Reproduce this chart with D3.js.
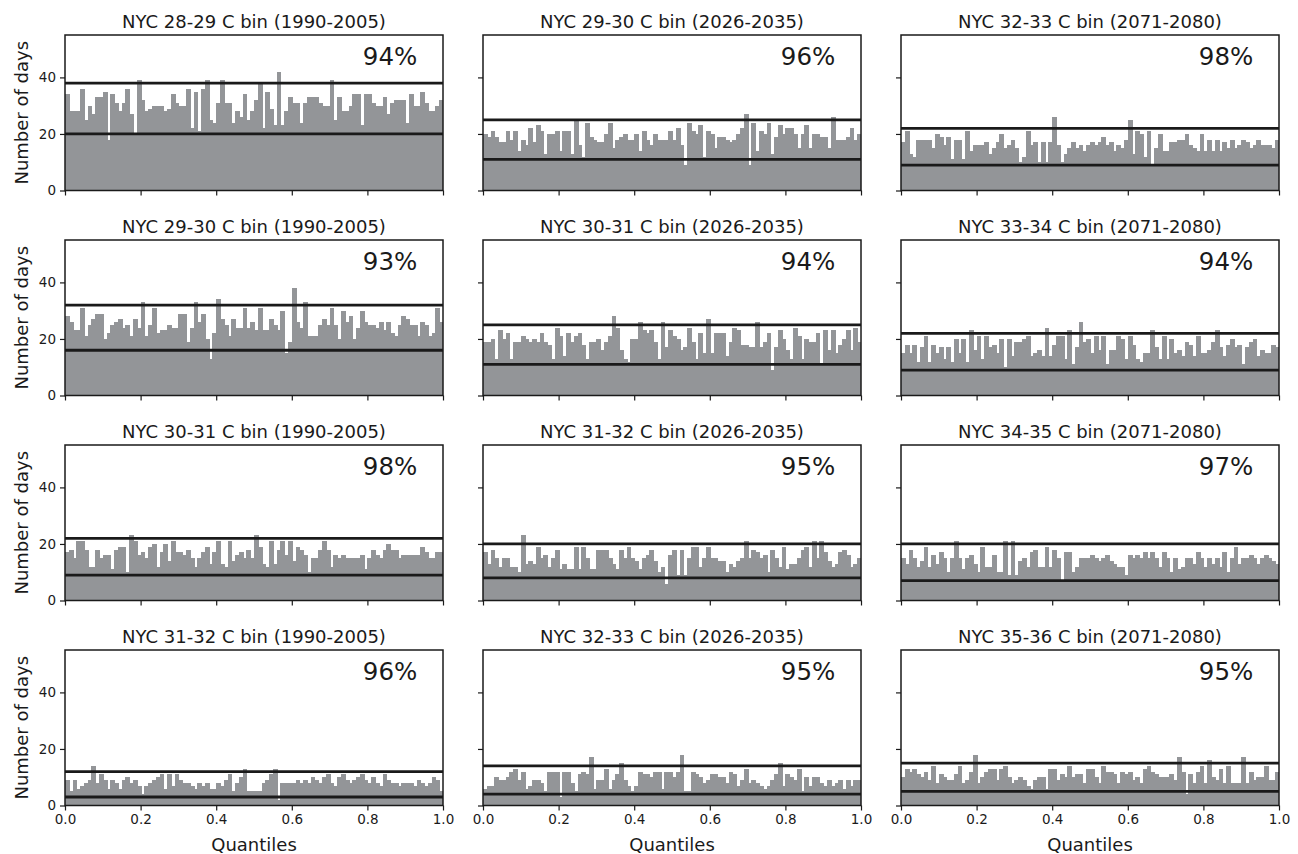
<!DOCTYPE html>
<html>
<head>
<meta charset="utf-8">
<script src="https://cdn.jsdelivr.net/npm/d3@7"></script>
<style>
  body { margin: 0; background: #ffffff; }
  svg text { font-family: "DejaVu Sans", sans-serif; fill: #1a1a1a; }
</style>
</head>
<body>
<svg id="chart" width="1298" height="854"></svg>
<script>
// Panel titles, row by row (left: 1990-2005, middle: 2026-2035, right: 2071-2080)
const titles = [
  "NYC 28-29 C bin (1990-2005)", "NYC 29-30 C bin (2026-2035)", "NYC 32-33 C bin (2071-2080)",
  "NYC 29-30 C bin (1990-2005)", "NYC 30-31 C bin (2026-2035)", "NYC 33-34 C bin (2071-2080)",
  "NYC 30-31 C bin (1990-2005)", "NYC 31-32 C bin (2026-2035)", "NYC 34-35 C bin (2071-2080)",
  "NYC 31-32 C bin (1990-2005)", "NYC 32-33 C bin (2026-2035)", "NYC 35-36 C bin (2071-2080)"
];
// Share of quantile bins inside the band
const shareLabels = ["94%", "96%", "98%", "93%", "94%", "94%", "98%", "95%", "97%", "96%", "95%", "95%"];
// Band limits (number of days)
const upperBounds = [38, 25, 22, 32, 25, 22, 22, 20, 20, 12, 14, 15];
const lowerBounds = [20, 11, 9, 16, 11, 9, 9, 8, 7, 3, 4, 5];

const xTicks = [0, 0.2, 0.4, 0.6, 0.8, 1.0];
const yTicks = [0, 20, 40];

// Days per quantile bin (100 bins each)
const nyc2829_1990 = [34,28,28,28,36,25,30,27,33,33, 35,18,34,31,28,31,36,27,20,39, 32,28,29,30,30,30,28,29,34,31, 30,30,36,22,35,21,36,39,25,24, 31,39,31,31,24,28,26,34,25,28, 32,38,22,35,29,23,42,23,28,33, 31,31,24,31,33,33,33,31,30,30, 39,25,33,28,28,30,34,34,23,34, 34,31,30,30,33,27,31,32,32,32, 24,34,30,30,35,31,28,28,30,32];
const nyc2930_2026 = [20,19,21,19,17,17,21,18,21,14, 18,16,22,17,23,21,13,20,20,21, 14,21,21,13,25,16,12,24,19,18, 17,17,20,24,15,18,19,20,18,18, 20,14,21,18,16,20,18,18,18,21, 18,22,16,9,24,21,20,23,12,21, 20,15,19,19,18,17,18,20,22,27, 9,24,14,21,20,24,13,19,23,20, 22,22,20,15,20,23,15,20,20,19, 19,15,26,18,18,18,19,22,18,20];
const nyc3233_2071 = [17,21,13,12,18,18,18,18,15,20, 19,16,19,11,18,18,11,21,14,16, 16,16,17,13,15,17,20,15,16,18, 15,10,12,21,16,17,10,17,10,17, 26,16,10,13,15,17,15,16,14,16, 17,16,17,19,16,17,14,16,15,18, 25,13,21,20,12,21,9,15,20,14, 14,17,17,18,18,20,16,15,14,20, 14,18,14,18,14,17,15,18,15,16, 18,17,15,16,18,16,16,16,15,18];
const nyc2930_1990 = [28,26,23,23,31,21,25,27,29,29, 20,22,25,26,27,24,25,21,27,24, 33,21,25,31,22,23,23,25,24,24, 29,29,19,24,33,26,29,20,13,22, 34,27,25,21,27,24,24,31,24,26, 23,31,23,23,27,25,23,30,15,19, 38,26,24,33,21,21,21,25,27,25, 31,25,20,30,26,28,20,24,30,26, 25,25,24,26,23,26,22,21,25,28, 27,25,25,21,26,25,21,22,31,26];
const nyc3031_2026 = [19,19,20,13,23,20,22,13,19,19, 21,20,19,20,19,22,19,18,13,24, 21,14,22,19,21,22,18,13,19,19, 20,16,19,21,28,24,16,13,12,20, 20,26,23,22,23,19,13,26,17,23, 21,20,16,17,24,19,13,22,15,27, 15,22,22,22,14,19,24,23,18,18, 17,17,26,17,19,22,9,17,23,20, 16,13,24,21,13,20,19,19,22,11, 23,16,23,15,18,20,23,16,24,19];
const nyc3334_2071 = [15,18,15,18,12,17,21,12,18,15, 17,13,17,12,20,15,20,12,23,16, 21,13,21,17,18,15,20,10,20,14, 19,19,20,21,14,15,16,14,24,14, 18,21,21,13,23,11,17,26,19,20, 15,21,16,21,11,16,16,21,20,13, 21,18,13,12,15,15,23,17,13,21, 13,20,15,16,14,19,18,14,21,15, 15,16,19,23,17,14,18,20,17,18, 11,17,19,20,14,16,15,15,18,17];
const nyc3031_1990 = [17,18,15,21,21,18,12,12,18,15, 16,16,11,18,19,19,10,23,21,16, 17,15,19,20,12,17,20,14,21,17, 17,16,18,15,12,15,17,19,13,17, 21,13,12,21,14,16,17,15,18,15, 23,19,13,12,21,13,18,21,16,21, 14,19,18,16,10,15,15,18,21,18, 12,16,15,16,15,15,15,15,16,11, 15,18,16,15,18,20,18,18,15,16, 16,16,16,16,19,17,15,15,17,17];
const nyc3132_2026 = [17,13,18,15,12,15,15,12,12,10, 23,13,14,13,19,15,16,12,15,18, 11,13,11,11,19,11,19,15,11,11, 18,18,18,15,13,11,18,15,19,15, 14,11,15,16,18,14,10,12,6,16, 18,9,18,9,15,19,19,12,15,19, 15,15,14,14,10,13,12,14,15,21, 15,18,17,15,16,10,18,15,12,19, 11,13,13,15,18,19,12,21,15,21, 17,14,12,13,17,18,16,12,13,15];
const nyc3435_2071 = [15,13,18,15,12,14,19,12,16,13, 17,15,10,15,21,15,11,15,16,13, 10,19,12,12,16,10,10,21,9,21, 9,14,15,12,17,18,12,12,19,12, 18,15,7,17,17,10,12,15,15,15, 16,15,14,15,16,14,13,12,12,9, 16,15,16,15,17,15,17,15,12,17, 15,10,15,11,12,15,15,13,17,15, 12,15,13,15,12,17,10,15,19,13, 15,15,16,15,13,15,16,15,14,13];
const nyc3132_1990 = [9,5,9,6,7,8,9,14,8,11, 9,6,9,8,6,9,10,8,9,7, 4,7,8,9,10,11,6,11,7,11, 9,8,8,7,6,8,7,8,6,6, 8,7,9,11,5,8,10,13,5,5, 5,5,8,9,11,13,2,8,8,8, 8,9,8,9,8,10,9,8,10,11, 8,7,10,11,9,8,9,10,11,9, 8,10,8,7,11,9,8,8,7,8, 8,8,7,9,8,7,8,10,9,5];
const nyc3233_2026 = [6,7,7,10,9,9,10,12,13,9, 12,6,7,9,9,8,5,12,12,12, 3,12,12,8,5,11,12,11,17,6, 9,9,13,6,9,11,15,9,7,5, 7,12,11,11,10,12,12,6,12,12, 10,12,18,5,5,12,11,10,8,9, 11,11,10,10,8,12,11,7,9,13, 8,9,8,7,6,7,9,11,15,7, 11,10,9,13,5,10,7,10,10,8, 7,9,7,8,9,6,9,7,9,9];
const nyc3536_2071 = [10,13,12,13,11,10,12,9,14,8, 11,10,9,9,11,14,8,9,12,18, 8,10,12,13,13,9,13,14,10,8, 9,10,9,7,6,9,10,10,6,13, 13,9,11,10,14,10,11,11,8,13, 13,10,8,14,12,12,11,8,12,11, 12,9,10,8,13,14,12,11,10,10, 10,11,9,17,12,4,11,8,12,14, 8,16,10,9,13,8,14,8,8,8, 17,8,12,9,10,10,14,9,9,12];

const panelCounts = [
  nyc2829_1990, nyc2930_2026, nyc3233_2071,
  nyc2930_1990, nyc3031_2026, nyc3334_2071,
  nyc3031_1990, nyc3132_2026, nyc3435_2071,
  nyc3132_1990, nyc3233_2026, nyc3536_2071
];

const svg = d3.select("#chart");
const colX = [65, 483, 901];
const rowY = [35, 240, 445, 650];
const W = 378, H = 155.5;
const barColor = "#939598";

const x = d3.scaleLinear().domain([0, 1]).range([0, W]);
const y = d3.scaleLinear().domain([0, 55]).range([H, 0]);

panelCounts.forEach((counts, k) => {
  const r = Math.floor(k / 3), c = k % 3;
  const g = svg.append("g").attr("transform", `translate(${colX[c]},${rowY[r]})`);
  const n = counts.length;

  // histogram bars (slight overlap + crisp edges so neighbours join without seams)
  g.append("g").attr("shape-rendering", "crispEdges")
    .selectAll("rect").data(counts).join("rect")
    .attr("x", (d, i) => x(i / n))
    .attr("width", (d, i) => Math.min(W, x((i + 1) / n) + 1) - x(i / n))
    .attr("y", d => y(d))
    .attr("height", d => H - y(d))
    .attr("fill", barColor);

  // band limits
  [upperBounds[k], lowerBounds[k]].forEach(v => {
    g.append("line")
      .attr("x1", 0).attr("x2", W)
      .attr("y1", y(v)).attr("y2", y(v))
      .attr("stroke", "#1a1a1a").attr("stroke-width", 2.8);
  });

  // axes
  const xa = d3.axisBottom(x).tickValues(xTicks).tickSize(5).tickPadding(4)
    .tickFormat(r === 3 ? d3.format(".1f") : () => "");
  const gx = g.append("g").attr("transform", `translate(0,${H})`).call(xa);
  const ya = d3.axisLeft(y).tickValues(yTicks).tickSize(5).tickPadding(4)
    .tickFormat(c === 0 ? d3.format("d") : () => "");
  const gy = g.append("g").call(ya);
  [gx, gy].forEach(a => {
    a.select(".domain").remove();
    a.selectAll(".tick line").attr("stroke", "#1a1a1a").attr("stroke-width", 1.2);
    a.selectAll(".tick text").attr("font-size", "13.5px").attr("fill", "#1a1a1a")
      .style("font-family", "'DejaVu Sans', sans-serif");
  });

  // frame
  g.append("rect").attr("width", W).attr("height", H)
    .attr("fill", "none").attr("stroke", "#1a1a1a").attr("stroke-width", 1.5);

  // title
  g.append("text").attr("x", W / 2).attr("y", -7)
    .attr("text-anchor", "middle").attr("font-size", "18px")
    .text(titles[k]);

  // share label
  g.append("text").attr("x", x(0.86)).attr("y", 30)
    .attr("text-anchor", "middle").attr("font-size", "24.5px")
    .text(shareLabels[k]);

  // axis labels
  if (c === 0) {
    g.append("text")
      .attr("transform", `translate(-37,${H / 2}) rotate(-90)`)
      .attr("text-anchor", "middle").attr("font-size", "18px")
      .text("Number of days");
  }
  if (r === 3) {
    g.append("text").attr("x", W / 2).attr("y", H + 45)
      .attr("text-anchor", "middle").attr("font-size", "18px")
      .text("Quantiles");
  }
});
</script>
</body>
</html>
